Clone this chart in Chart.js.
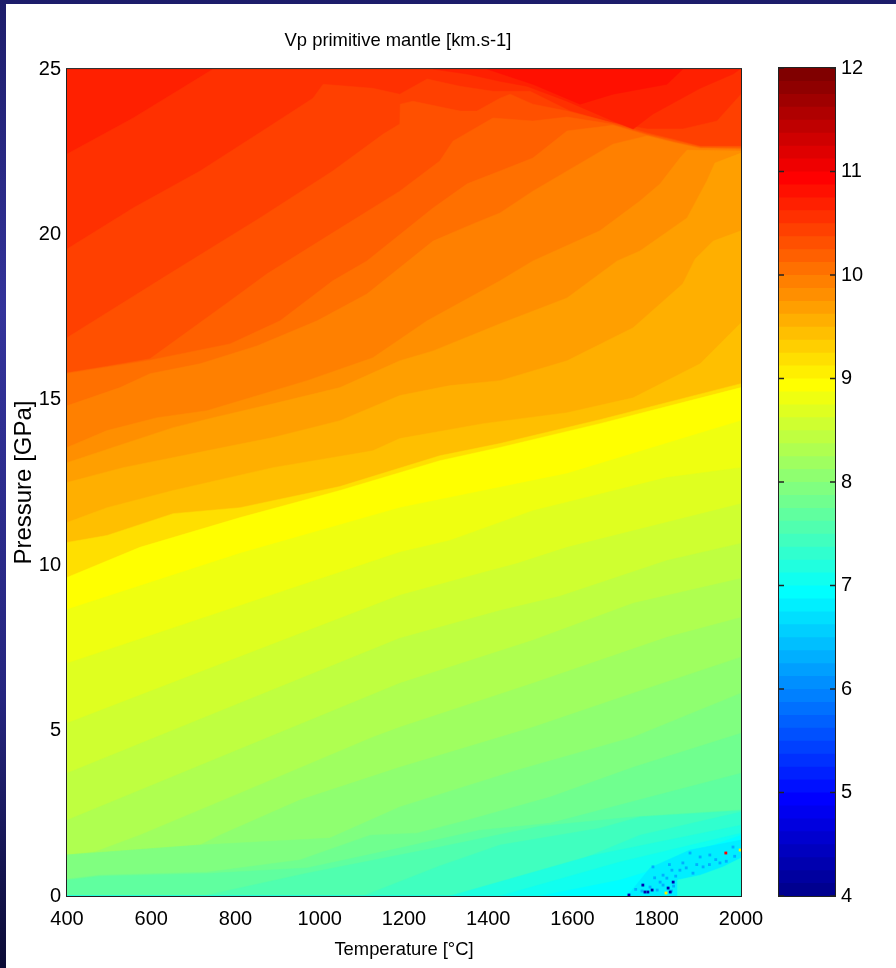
<!DOCTYPE html>
<html>
<head>
<meta charset="utf-8">
<title>Vp primitive mantle</title>
<script src="https://cdn.jsdelivr.net/npm/chart.js@4"></script>
<style>
html, body { margin: 0; height: 968px; overflow: hidden; }
body { position: relative; width: 896px; background: linear-gradient(#1d1d6a, #33339a 32%, #25257f 72%, #0b0b35); }
#panel { position: absolute; left: 6px; top: 4px; right: 0; bottom: 0; background: #fff; }
canvas { position: absolute; top: 0; }
#plot { left: 0; }
#bar { left: 740px; }
</style>
</head>
<body>
<div id="panel"></div>
<canvas id="plot" width="896" height="968"></canvas>
<canvas id="bar" width="156" height="968"></canvas>
<script>
// axis ticks
const tempTicks = [400, 600, 800, 1000, 1200, 1400, 1600, 1800, 2000];
const pressTicks = [0, 5, 10, 15, 20, 25];
const barTicks = [4, 5, 6, 7, 8, 9, 10, 11, 12];

// upper edge of each Vp band, [temperature, pressure]
const edge54 = [[400, 25], [2000, 25]];
const edge53 = [[400, 22.43], [557, 23.52], [747, 25], [2000, 25]];
const edge52 = [[400, 19.56], [557, 20.8], [716, 21.92], [875, 23.22], [984, 24.12], [1008, 24.54], [1126, 24.42], [1190, 24.24], [1255, 24.7], [1333, 24.48], [1411, 24.33], [1499, 24.33], [1594, 23.73], [1696, 23.37], [1777, 23.19], [1862, 23.19], [1943, 23.43], [2000, 24.24]];
const edge51 = [[400, 16.88], [628, 18.69], [858, 20.5], [1031, 21.92], [1150, 23.03], [1190, 23.34], [1191, 23.94], [1221, 24.03], [1333, 23.73], [1373, 23.73], [1428, 24.12], [1452, 24.24], [1506, 23.94], [1587, 23.73], [1696, 23.37], [1777, 23.07], [1839, 22.88], [1903, 22.67], [2000, 22.67]];
const edge50 = [[400, 15.82], [502, 16.03], [597, 16.24], [699, 17.18], [787, 17.99], [875, 18.81], [1031, 20.05], [1190, 21.31], [1285, 22.22], [1316, 22.82], [1411, 23.52], [1506, 23.43], [1587, 23.55], [1696, 23.33], [1777, 23.03], [1839, 22.85], [1903, 22.65], [2000, 22.65]];
const edge49 = [[400, 15.8], [597, 16.2], [787, 16.69], [906, 17.39], [1031, 18.6], [1112, 19.2], [1269, 20.8], [1350, 21.53], [1428, 21.92], [1506, 22.31], [1587, 23.13], [1696, 23.3], [1777, 23.0], [1839, 22.8], [1903, 22.62], [2000, 22.6]];
const edge48 = [[400, 14.82], [526, 15.37], [597, 15.79], [716, 16.09], [851, 16.63], [994, 17.39], [1112, 18.2], [1269, 19.8], [1364, 20.32], [1428, 20.65], [1506, 21.31], [1696, 22.73], [1777, 22.98], [1839, 22.78], [1903, 22.6], [2000, 22.58]];
const edge47 = [[400, 13.56], [495, 14.07], [614, 14.46], [732, 14.67], [811, 14.97], [970, 15.58], [1126, 16.27], [1255, 17.39], [1428, 18.6], [1506, 19.2], [1665, 20.11], [1760, 21.01], [1808, 21.53], [1855, 22.31], [1872, 22.55], [2000, 22.52]];
const edge46 = [[400, 13.1], [509, 13.56], [652, 14.16], [747, 14.46], [889, 14.88], [1048, 15.37], [1190, 16.18], [1269, 16.48], [1428, 17.3], [1587, 18.08], [1706, 19.2], [1760, 19.5], [1872, 20.5], [1919, 21.62], [1938, 22.16], [2000, 22.46]];
const edge45 = [[400, 12.5], [533, 12.95], [732, 13.46], [889, 13.86], [1048, 14.37], [1190, 15.13], [1309, 15.43], [1428, 15.58], [1587, 16.18], [1744, 17.18], [1862, 18.51], [1891, 19.26], [1934, 19.8], [2000, 20.11]];
const edge44 = [[400, 11.29], [495, 11.74], [652, 12.26], [889, 12.95], [1126, 13.46], [1190, 13.83], [1388, 14.28], [1587, 14.61], [1744, 15.06], [1903, 16.09], [2000, 17.33]];
const edge42 = [[400, 10.69], [495, 10.9], [652, 11.56], [811, 11.74], [1048, 12.38], [1285, 13.31], [1428, 13.68], [1665, 14.4], [2000, 15.49]];
const edge40 = [[400, 9.63], [573, 10.54], [811, 11.44], [1048, 12.26], [1285, 13.16], [1428, 13.56], [1665, 14.28], [2000, 15.37]];
const edge39 = [[400, 8.66], [811, 10.36], [1190, 11.74], [1587, 12.77], [2000, 14.37]];
const edge38 = [[400, 7.03], [1190, 10.39], [1309, 10.75], [1506, 11.65], [1824, 12.65], [2000, 12.95]];
const edge37 = [[400, 5.22], [1190, 9.09], [1388, 9.78], [1468, 10.05], [1587, 10.54], [2000, 11.86]];
const edge36 = [[400, 3.71], [1190, 7.79], [1428, 8.63], [1570, 9.06], [1824, 10.14], [2000, 10.66]];
const edge35 = [[400, 2.29], [1190, 6.43], [1506, 7.73], [1744, 8.85], [2000, 9.6]];
const edge34 = [[400, 1.24], [466, 1.33], [573, 1.84], [811, 3.11], [1126, 4.8], [1190, 5.1], [1506, 6.43], [1824, 7.82], [2000, 8.42]];
const edge33 = [[400, 1.24], [716, 1.54], [763, 1.84], [953, 2.9], [1190, 3.89], [1506, 5.1], [1744, 6.13], [2000, 7.22]];
const edge32 = [[400, 1.24], [716, 1.54], [1024, 1.75], [1190, 2.69], [1468, 3.8], [1744, 4.8], [2000, 6.13]];
const edge31 = [[400, 0.51], [478, 0.63], [732, 0.72], [953, 1.09], [1120, 1.84], [1231, 1.9], [1350, 2.29], [1547, 2.99], [1744, 3.89], [2000, 4.92]];
const edge30 = [[400, 0.48], [478, 0.6], [732, 0.68], [970, 0.85], [1190, 1.45], [1380, 1.99], [1547, 2.2], [1784, 2.99], [2000, 3.71]];
const edge29 = [[400, 0], [723, 0], [970, 0.69], [1285, 1.48], [1523, 2.11], [1744, 2.39], [2000, 2.6]];
const edge28 = [[400, 0], [1103, 0], [1285, 0.91], [1428, 1.54], [1665, 2.05], [1760, 2.39], [2000, 2.58]];
const edge27 = [[400, 0], [1404, 0], [1618, 1.09], [1760, 1.84], [2000, 2.54]];
const edge26 = [[400, 0], [1309, 0], [1642, 1.21], [2000, 2.14]];
const edge25 = [[400, 0], [1428, 0], [1713, 1.03], [2000, 1.9]];
const edge24 = [[400, 0], [1523, 0], [1713, 0.48], [1808, 0.85], [1903, 1.39], [2000, 1.84]];

// closed patches that do not fit the stack above
const patch54 = [[1269, 25], [1350, 24.85], [1428, 24.63], [1492, 24.48], [1587, 24.03], [1696, 23.43], [1744, 23.19], [1791, 23.64], [1903, 24.42], [1981, 24.85], [1998, 25]];
const patch55 = [[1397, 25], [1506, 24.54], [1618, 23.94], [1696, 24.24], [1824, 24.54], [1862, 25]];
const patch23 = [[1730, 0], [1784, 0.85], [1879, 1.39], [2000, 1.69], [2000, 1.15], [1957, 0.88], [1903, 0.63], [1849, 0.48], [1849, 0]];
const patch26 = [[1849, 0], [1849, 0.48], [1903, 0.63], [1957, 0.88], [2000, 1.15], [2000, 0]];

// noisy cells near the low pressure corner
const speckMid = [[1791, 0.88], [1815, 0.63], [1824, 0.54], [1808, 0.42], [1836, 0.78], [1855, 0.78], [1879, 1.3], [1903, 1.18], [1926, 1.24], [1886, 0.69], [1910, 0.88], [1950, 1.0], [1981, 1.48], [1862, 1.0], [1784, 0.27], [1815, 0.33], [1801, 0.18], [1845, 0.6], [1870, 0.85], [1895, 0.95], [1925, 0.95], [1940, 1.1], [1830, 0.95], [1795, 0.55], [1765, 0.15], [1750, 0.2], [1840, 0.3], [1965, 1.05], [1985, 1.2], [1835, 0.15]];
const speckDark = [[1734, 0.03], [1767, 0.33], [1772, 0.12], [1779, 0.12], [1789, 0.18], [1827, 0.24], [1832, 0.12], [1839, 0.42]];
const speckRed = [[1964, 1.3]];
const speckYellow = [[1822, 0.09], [1998, 1.39]];

// colour bar: upper value of each of the 64 colour steps
const barTops = [4.125, 4.25, 4.375, 4.5, 4.625, 4.75, 4.875, 5, 5.125, 5.25, 5.375, 5.5, 5.625, 5.75, 5.875, 6,
    6.125, 6.25, 6.375, 6.5, 6.625, 6.75, 6.875, 7, 7.125, 7.25, 7.375, 7.5, 7.625, 7.75, 7.875, 8,
    8.125, 8.25, 8.375, 8.5, 8.625, 8.75, 8.875, 9, 9.125, 9.25, 9.375, 9.5, 9.625, 9.75, 9.875, 10,
    10.125, 10.25, 10.375, 10.5, 10.625, 10.75, 10.875, 11, 11.125, 11.25, 11.375, 11.5, 11.625, 11.75, 11.875, 12];

// matlab jet, row 1..64
function jet(row) {
    let clamp = (v) => Math.round(255 * Math.max(0, Math.min(1, v)));
    let r = row <= 56 ? (row - 24) / 16 : 1 - (row - 56) / 16;
    let g = row <= 40 ? (row - 8) / 16 : (56 - row) / 16;
    let b = row <= 24 ? (row + 8) / 16 : (40 - row) / 16;
    return `rgb(${clamp(r)},${clamp(g)},${clamp(b)})`;
}

let toPoints = (pairs) => pairs.map((p) => ({ x: p[0], y: p[1] }));

// painted from the top band down, each one covers everything under its edge
let bandLayers = [
    [54, edge54], [53, edge53], [52, edge52], [51, edge51], [50, edge50], [49, edge49], [48, edge48],
    [47, edge47], [46, edge46], [45, edge45], [44, edge44], [42, edge42], [40, edge40], [39, edge39],
    [38, edge38], [37, edge37], [36, edge36], [35, edge35], [34, edge34], [33, edge33], [32, edge32],
    [31, edge31], [30, edge30], [29, edge29], [28, edge28], [27, edge27], [26, edge26], [25, edge25], [24, edge24],
];
let patchLayers = [[54, patch54], [55, patch55], [23, patch23], [26, patch26]];
let speckLayers = [[19, speckMid], [3, speckDark], [56, speckRed], [41, speckYellow]];

let layers = [];
bandLayers.forEach(([row, edge]) => {
    layers.push({ data: toPoints(edge), showLine: true, fill: "start", backgroundColor: jet(row), borderColor: jet(row), borderWidth: 0.5, pointRadius: 0 });
});
patchLayers.forEach(([row, edge]) => {
    layers.push({ data: toPoints(edge), showLine: true, fill: "shape", backgroundColor: jet(row), borderColor: jet(row), borderWidth: 0.5, pointRadius: 0 });
});
speckLayers.forEach(([row, cells]) => {
    layers.push({ data: toPoints(cells), showLine: false, pointStyle: "rect", pointRadius: 2, borderWidth: 0, backgroundColor: jet(row) });
});

// black box round a plot area
let framePlugin = {
    id: "frame",
    afterDraw(chart) {
        let a = chart.chartArea;
        chart.ctx.save();
        chart.ctx.strokeStyle = "#222";
        chart.ctx.lineWidth = 1;
        chart.ctx.strokeRect(a.left - 0.5, a.top - 0.5, a.right - a.left + 1, a.bottom - a.top + 1);
        chart.ctx.restore();
    },
};

// the title sits a little left of the plot centre
let titleShift = {
    id: "titleShift",
    afterLayout(chart) {
        chart.titleBlock.left -= 6;
        chart.titleBlock.right -= 6;
    },
};

let tickFont = { family: "'Liberation Sans'", size: 20 };
let plainTick = (v) => String(v);

new Chart(document.getElementById("plot"), {
    type: "scatter",
    // chart.js draws the first dataset last
    data: { datasets: layers.slice().reverse() },
    plugins: [framePlugin, titleShift],
    options: {
        responsive: false,
        animation: false,
        events: [],
        layout: { padding: { left: 0, top: 0, right: 155, bottom: 0 } },
        plugins: {
            legend: { display: false },
            tooltip: { enabled: false },
            title: {
                display: true,
                text: "Vp primitive mantle [km.s-1]",
                color: "#000",
                fullSize: false,
                font: { family: tickFont.family, size: 18.4, weight: "normal" },
                padding: { top: 30, bottom: 17 },
            },
        },
        scales: {
            x: {
                type: "linear",
                min: 400,
                max: 2000,
                afterBuildTicks: (scale) => { scale.ticks = tempTicks.map((v) => ({ value: v })); },
                afterFit: (scale) => { scale.height = 72; },
                grid: { display: false, drawTicks: false },
                border: { display: false },
                ticks: { color: "#000", font: tickFont, padding: 11, maxRotation: 0, autoSkip: false, callback: plainTick },
                title: { display: true, text: "Temperature [°C]", color: "#000", font: { family: tickFont.family, size: 18.4 }, padding: { top: 0, bottom: 7 } },
            },
            y: {
                type: "linear",
                min: 0,
                max: 25,
                afterBuildTicks: (scale) => { scale.ticks = pressTicks.map((v) => ({ value: v })); },
                afterFit: (scale) => { scale.width = 67; },
                grid: { display: false, drawTicks: false },
                border: { display: false },
                ticks: { color: "#000", font: tickFont, padding: 6, autoSkip: false, callback: plainTick },
                title: { display: true, text: "Pressure [GPa]", color: "#000", font: { family: "'Liberation Sans'", size: 24 }, padding: { top: 10, bottom: 0 } },
            },
        },
    },
});

// colour bar, same stacking idea
let barLayers = [];
for (let i = barTops.length - 1; i >= 0; i--) {
    barLayers.push({ data: [{ x: 0, y: barTops[i] }, { x: 1, y: barTops[i] }], showLine: true, fill: "start", backgroundColor: jet(i + 1), borderWidth: 0, pointRadius: 0 });
}
// inward tick marks on both sides
barLayers.push({ data: barTicks.flatMap((v) => [{ x: 0, y: v }, { x: 1, y: v }]), showLine: false, pointStyle: "line", pointRadius: 5, borderColor: "#222", borderWidth: 1.5 });

new Chart(document.getElementById("bar"), {
    type: "scatter",
    data: { datasets: barLayers.slice().reverse() },
    plugins: [framePlugin],
    options: {
        responsive: false,
        animation: false,
        events: [],
        layout: { padding: { left: 39, top: 68, right: 0, bottom: 72 } },
        plugins: { legend: { display: false }, tooltip: { enabled: false } },
        scales: {
            x: { type: "linear", min: 0, max: 1, display: false },
            y: {
                type: "linear",
                position: "right",
                min: 4,
                max: 12,
                afterBuildTicks: (scale) => { scale.ticks = barTicks.map((v) => ({ value: v })); },
                afterFit: (scale) => { scale.width = 61; },
                grid: { display: false, drawTicks: false },
                border: { display: false },
                ticks: { color: "#000", font: tickFont, padding: 6, autoSkip: false, callback: plainTick },
            },
        },
    },
});
</script>
</body>
</html>
